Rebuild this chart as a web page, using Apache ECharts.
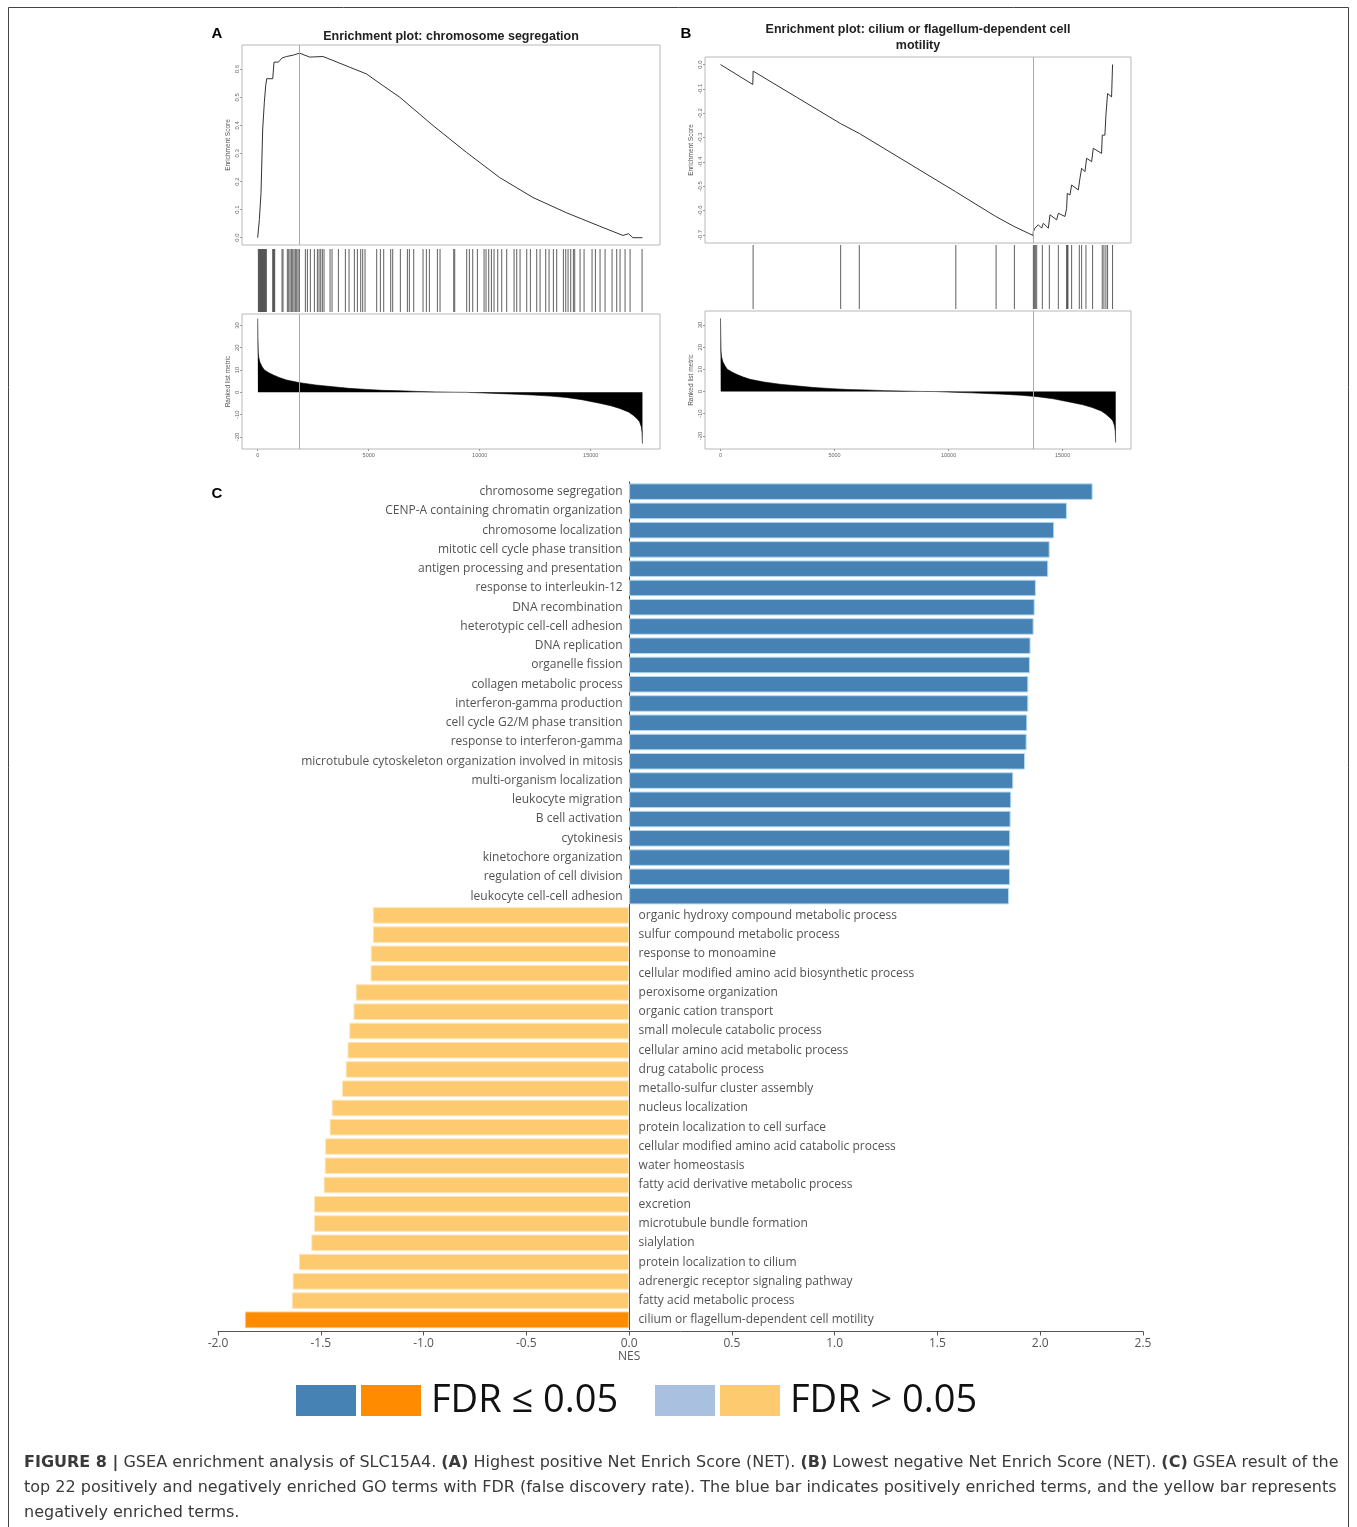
<!DOCTYPE html>
<html><head><meta charset="utf-8">
<script src="https://cdn.jsdelivr.net/npm/echarts@6/dist/echarts.min.js"></script>
<style>html,body{margin:0;padding:0;background:#fff}#c{width:1357px;height:1527px}</style>
</head><body><div id="c"></div>
<script>
// ---------------- Panel C data ----------------
const posTerms = ["chromosome segregation","CENP-A containing chromatin organization","chromosome localization","mitotic cell cycle phase transition","antigen processing and presentation","response to interleukin-12","DNA recombination","heterotypic cell-cell adhesion","DNA replication","organelle fission","collagen metabolic process","interferon-gamma production","cell cycle G2/M phase transition","response to interferon-gamma","microtubule cytoskeleton organization involved in mitosis","multi-organism localization","leukocyte migration","B cell activation","cytokinesis","kinetochore organization","regulation of cell division","leukocyte cell-cell adhesion"];
const posNES = [2.255,2.130,2.068,2.046,2.039,1.979,1.973,1.968,1.953,1.950,1.942,1.942,1.937,1.934,1.926,1.869,1.859,1.856,1.854,1.853,1.853,1.848];
const posFdrLow = [true,true,true,true,true,true,true,true,true,true,true,true,true,true,true,true,true,true,true,true,true,true];
const negTerms = ["organic hydroxy compound metabolic process","sulfur compound metabolic process","response to monoamine","cellular modified amino acid biosynthetic process","peroxisome organization","organic cation transport","small molecule catabolic process","cellular amino acid metabolic process","drug catabolic process","metallo-sulfur cluster assembly","nucleus localization","protein localization to cell surface","cellular modified amino acid catabolic process","water homeostasis","fatty acid derivative metabolic process","excretion","microtubule bundle formation","sialylation","protein localization to cilium","adrenergic receptor signaling pathway","fatty acid metabolic process","cilium or flagellum-dependent cell motility"];
const negNES = [-1.247,-1.247,-1.257,-1.258,-1.330,-1.341,-1.361,-1.370,-1.379,-1.397,-1.447,-1.457,-1.479,-1.481,-1.486,-1.533,-1.533,-1.546,-1.606,-1.637,-1.641,-1.869];
const negFdrLow = [false,false,false,false,false,false,false,false,false,false,false,false,false,false,false,false,false,false,false,false,false,true];
const nesTickMin = -2.0, nesTickMax = 2.5, nesTickStep = 0.5;

// ---------------- Panels A / B data ----------------
const rankTicks = [0, 5000, 10000, 15000];
const esTicksA = [0.0, 0.1, 0.2, 0.3, 0.4, 0.5, 0.6];
const esTicksB = [-0.7, -0.6, -0.5, -0.4, -0.3, -0.2, -0.1, 0.0];
const metricTicks = [-20, -10, 0, 10, 20, 30];

// running enrichment score, panel A (rank, ES)
const esRankA = [0, 75, 150, 225, 300, 360, 405, 676, 736, 931, 1006, 1100, 1300, 1600, 1890, 2340, 2940, 3390, 4140, 4900, 5650, 6400, 7900, 9400, 10900, 12400, 13900, 15400, 16450, 16700, 16900, 17330];
const esValA  = [0, 0.065, 0.16, 0.387, 0.482, 0.541, 0.566, 0.566, 0.625, 0.625, 0.632, 0.640, 0.645, 0.650, 0.657, 0.643, 0.645, 0.631, 0.607, 0.583, 0.541, 0.500, 0.399, 0.304, 0.214, 0.143, 0.089, 0.041, 0.008, 0.014, 0.0, 0.0];
const leadEdgeA = 1890;
const hitsA = [30,60,90,120,150,180,210,240,270,300,330,360,390,676,706,736,766,1096,1141,1336,1396,1456,1517,1577,1637,1697,1757,1817,1877,2147,2237,2372,2553,2688,2763,2838,2913,2988,3258,3348,3634,3949,4114,4354,4489,4640,4730,4835,5360,5526,5676,5991,6081,6426,6742,6832,7027,7447,7598,7733,8093,8213,8829,8874,9414,9535,9685,9895,10195,10285,10405,10526,10646,10811,10991,11216,11547,11667,11817,12117,12282,12568,12718,12973,13123,13318,13468,13769,13874,13979,14099,14219,14279,14520,14700,15060,15210,15420,15646,15961,16171,16321,16547,16772,17312];

// running enrichment score, panel B (rank, ES)
const esRankB = [0, 1416, 1430, 5254, 5269, 6086, 6100, 10304, 10318, 12069, 12084, 12872, 12887, 13704, 13719, 13791, 13937, 14083, 14156, 14375, 14448, 14740, 14813, 15105, 15178, 15207, 15324, 15397, 15689, 15762, 15835, 15981, 16054, 16273, 16346, 16710, 16740, 16856, 16900, 16929, 16973, 17148, 17192];
const esValB  = [0, -0.082, -0.027, -0.242, -0.235, -0.283, -0.275, -0.522, -0.515, -0.624, -0.617, -0.665, -0.658, -0.702, -0.686, -0.672, -0.658, -0.672, -0.652, -0.672, -0.617, -0.638, -0.611, -0.624, -0.590, -0.529, -0.536, -0.495, -0.515, -0.467, -0.426, -0.440, -0.385, -0.399, -0.344, -0.365, -0.290, -0.290, -0.208, -0.214, -0.119, -0.133, 0.0];
const leadEdgeB = 13719;
const hitsB = [1430,5269,6086,10318,12084,12887,13719,13762,13806,13865,14113,14419,14813,15178,15207,15236,15397,15733,15835,16025,16316,16740,16813,16900,16973,17192];

// ranked list metric (shared gene ranking)
const metricRank = [0, 10, 25, 50, 100, 200, 300, 500, 700, 1000, 1300, 1900, 2600, 3400, 4100, 4900, 5600, 6400, 7200, 8000, 8800, 9400, 10200, 11000, 11700, 12400, 13200, 13900, 14600, 15400, 15900, 16300, 16700, 16900, 17100, 17200, 17280, 17310, 17330];
const metricVal  = [33, 25, 18, 15.5, 13.5, 11.5, 10, 8.8, 7.8, 6.5, 5.5, 4.3, 3.3, 2.5, 1.8, 1.3, 0.9, 0.7, 0.4, 0.2, 0.05, 0, -0.3, -0.6, -0.9, -1.2, -1.7, -2.3, -3.3, -4.9, -6.0, -7.2, -8.8, -10.2, -12.0, -13.2, -15.5, -18.0, -23.0];

// ---------------- build ----------------
const chart = echarts.init(document.getElementById('c'), null, {renderer: 'canvas'});
const pairs = (xs, ys) => xs.map((x, i) => [x, ys[i]]);
const allTerms = posTerms.concat(negTerms);
const allNES = posNES.concat(negNES);
const allLow = posFdrLow.concat(negFdrLow);
const COL = {sigPos: '#4682b4', sigNeg: '#ff8c00', nsPos: '#a9c0e0', nsNeg: '#fdca70'};
const BORDER = {sigPos: '#b3daf2', sigNeg: '#ffc27a', nsPos: '#d6e2f2', nsNeg: '#fde6bd'};
const keyFor = i => (allNES[i] >= 0 ? (allLow[i] ? 'sigPos' : 'nsPos') : (allLow[i] ? 'sigNeg' : 'nsNeg'));

const tinyLbl = {fontSize: 6, color: '#666', fontFamily: 'Liberation Sans'};
const boxStyle = {show: true, borderColor: '#b8b8b8', borderWidth: 1, backgroundColor: 'transparent'};
const grids = [
  Object.assign({left: 242, top: 45, width: 418, height: 200}, boxStyle),
  {left: 242, top: 249, width: 418, height: 63},
  Object.assign({left: 242, top: 314, width: 418, height: 135}, boxStyle),
  Object.assign({left: 705, top: 57, width: 426, height: 186}, boxStyle),
  {left: 705, top: 245, width: 426, height: 64},
  Object.assign({left: 705, top: 311, width: 426, height: 138}, boxStyle),
  {left: 218, top: 482, width: 925, height: 847.5}
];
function rankAxis(gi, min, max, labels) {
  return {type: 'value', gridIndex: gi, min: min, max: max, splitLine: {show: false},
    axisLine: {show: false, onZero: false},
    axisTick: labels ? {show: true, customValues: rankTicks, length: 2, lineStyle: {color: '#999'}} : {show: false},
    axisLabel: labels ? {show: true, customValues: rankTicks, margin: 3, fontSize: 5.5, color: '#666', fontFamily: 'Liberation Sans', formatter: v => String(Math.round(v))} : {show: false}};
}
function valAxis(gi, min, max, ticks, name, fmt) {
  return {type: 'value', gridIndex: gi, min: min, max: max, splitLine: {show: false},
    axisLine: {show: false, onZero: false},
    axisTick: {show: true, customValues: ticks, length: 2, lineStyle: {color: '#999'}},
    axisLabel: Object.assign({show: true, customValues: ticks, rotate: 90, margin: 2, formatter: fmt}, tinyLbl),
    name: name, nameLocation: 'middle', nameGap: 10,
    nameTextStyle: {fontSize: 6.5, color: '#555', fontFamily: 'Liberation Sans'}};
}
const fmt1 = v => Number(v).toFixed(1);
const fmt0 = v => String(Math.round(v));
const hiddenY = gi => ({type: 'value', gridIndex: gi, min: 0, max: 1, show: false});

const xAxes = [
  rankAxis(0, -707, 18120, false),
  rankAxis(1, -707, 18120, false),
  rankAxis(2, -707, 18120, true),
  rankAxis(3, -680, 18000, false),
  rankAxis(4, -680, 18000, false),
  rankAxis(5, -680, 18000, true),
  {type: 'value', gridIndex: 6, min: nesTickMin, max: nesTickMax, interval: nesTickStep,
    splitLine: {show: false}, offset: 2,
    axisLine: {show: true, onZero: false, lineStyle: {color: '#555', width: 1}},
    axisTick: {show: true, length: 4, lineStyle: {color: '#555'}},
    axisLabel: {color: '#555', fontSize: 12, fontFamily: 'Open Sans', margin: 6, lineHeight: 13,
      formatter: v => (Math.abs(v) < 1e-9 ? '0.0\nNES' : Number(v).toFixed(1))}}
];
const yAxes = [
  valAxis(0, -0.026, 0.686, esTicksA, 'Enrichment Score', fmt1),
  hiddenY(1),
  valAxis(2, -25.4, 35.1, metricTicks, 'Ranked list metric', fmt0),
  valAxis(3, -0.733, 0.031, esTicksB, 'Enrichment Score', fmt1),
  hiddenY(4),
  valAxis(5, -25.9, 36.3, metricTicks, 'Ranked list metric', fmt0),
  {type: 'category', gridIndex: 6, data: allTerms, inverse: true,
    axisLine: {show: true, onZero: true, lineStyle: {color: '#444', width: 1}},
    axisTick: {show: false}, axisLabel: {show: false}, splitLine: {show: false}}
];

function vline(x) {
  return {symbol: 'none', silent: true, animation: false, label: {show: false},
    lineStyle: {color: '#aaaaaa', width: 1, type: 'solid'}, data: [{xAxis: x}]};
}
function barcode(xi, hits) {
  return {type: 'custom', xAxisIndex: xi, yAxisIndex: xi, data: hits.map(r => [r, 1]),
    encode: {x: 0, y: 1}, silent: true,
    renderItem: (params, api) => {
      const p = api.coord([api.value(0), 1]);
      const q = api.coord([api.value(0), 0]);
      return {type: 'line', shape: {x1: p[0], y1: p[1], x2: q[0], y2: q[1]},
        style: {stroke: '#2b2b2b', lineWidth: 1, opacity: 0.75}};
    }};
}
function esLine(xi, data, lead) {
  return {type: 'line', xAxisIndex: xi, yAxisIndex: xi, data: data, showSymbol: false, silent: true,
    lineStyle: {color: '#333', width: 1}, markLine: vline(lead)};
}
function metricArea(xi, lead) {
  return {type: 'line', xAxisIndex: xi, yAxisIndex: xi, data: pairs(metricRank, metricVal), showSymbol: false, silent: true,
    lineStyle: {color: '#000', width: 0.6}, areaStyle: {color: '#000', opacity: 1}, markLine: vline(lead)};
}

const series = [
  esLine(0, pairs(esRankA, esValA), leadEdgeA),
  barcode(1, hitsA),
  metricArea(2, leadEdgeA),
  esLine(3, pairs(esRankB, esValB), leadEdgeB),
  barcode(4, hitsB),
  metricArea(5, leadEdgeB),
  {type: 'bar', xAxisIndex: 6, yAxisIndex: 6, barWidth: '86%', silent: true,
    data: allNES.map((v, i) => ({value: v, itemStyle: {color: COL[keyFor(i)], borderColor: BORDER[keyFor(i)], borderWidth: 1}}))},
  {type: 'scatter', xAxisIndex: 6, yAxisIndex: 6, symbolSize: 1, silent: true, z: 5,
    itemStyle: {color: 'rgba(0,0,0,0)'},
    data: allTerms.map((t, i) => ({value: [0, t], label: {position: allNES[i] >= 0 ? 'left' : 'right', distance: allNES[i] >= 0 ? 6 : 9}})),
    label: {show: true, formatter: p => p.value[1], fontFamily: 'Open Sans', fontSize: 12, color: '#262626'}}
];

const capStyle = {fontFamily: 'DejaVu Sans', fontSize: 16, fill: '#3a3a3a',
  rich: {b: {fontFamily: 'DejaVu Sans', fontSize: 16, fontWeight: 'bold', color: '#222'}}};
const txt = (x, y, text, style) => ({type: 'text', x: x, y: y, silent: true,
  style: Object.assign({text: text, verticalAlign: 'middle'}, style)});
const titleStyle = {fontFamily: 'Liberation Sans', fontSize: 12.5, fontWeight: 'bold', fill: '#222', align: 'center'};
const letterStyle = {fontFamily: 'Liberation Sans', fontSize: 15, fontWeight: 'bold', fill: '#000', align: 'center'};
const legStyle = {fontFamily: 'Open Sans', fontSize: 38, fill: '#111', align: 'left'};

const graphic = [
  {type: 'rect', silent: true, shape: {x: 8.5, y: 7.5, width: 1340, height: 1540}, style: {fill: 'none', stroke: '#444', lineWidth: 1}},
  txt(217, 34, 'A', letterStyle),
  txt(686, 34, 'B', letterStyle),
  txt(217, 494, 'C', letterStyle),
  txt(451, 37, 'Enrichment plot: chromosome segregation', titleStyle),
  txt(918, 30, 'Enrichment plot: cilium or flagellum-dependent cell', titleStyle),
  txt(918, 46, 'motility', titleStyle),
  {type: 'rect', silent: true, shape: {x: 296, y: 1385, width: 60, height: 31}, style: {fill: COL.sigPos}},
  {type: 'rect', silent: true, shape: {x: 361, y: 1385, width: 60, height: 31}, style: {fill: COL.sigNeg}},
  txt(431, 1401, 'FDR \u2264 0.05', legStyle),
  {type: 'rect', silent: true, shape: {x: 655, y: 1385, width: 60, height: 31}, style: {fill: COL.nsPos}},
  {type: 'rect', silent: true, shape: {x: 720, y: 1385, width: 60, height: 31}, style: {fill: COL.nsNeg}},
  txt(790, 1401, 'FDR > 0.05', legStyle),
  txt(24, 1463, '{b|FIGURE 8 |} GSEA enrichment analysis of SLC15A4. {b|(A)} Highest positive Net Enrich Score (NET). {b|(B)} Lowest negative Net Enrich Score (NET). {b|(C)} GSEA result of the', capStyle),
  txt(24, 1488, 'top 22 positively and negatively enriched GO terms with FDR (false discovery rate). The blue bar indicates positively enriched terms, and the yellow bar represents', capStyle),
  txt(24, 1513, 'negatively enriched terms.', capStyle)
];

chart.setOption({animation: false, backgroundColor: '#fff', grid: grids, xAxis: xAxes, yAxis: yAxes, series: series, graphic: graphic});
</script></body></html>
